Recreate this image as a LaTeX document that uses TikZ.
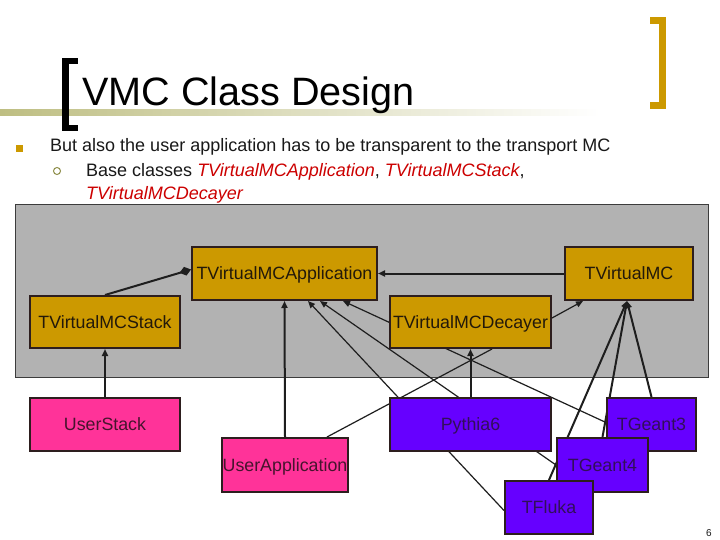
\documentclass[tikz,border=0pt]{standalone}
\usepackage{fontspec}
\setmainfont{Liberation Sans}
\usetikzlibrary{arrows.meta,calc}
\pgfdeclarelayer{bg}
\pgfdeclarelayer{edges}
\pgfsetlayers{bg,edges,main}
\definecolor{goldc}{RGB}{204,153,0}
\definecolor{pinkc}{RGB}{255,51,153}
\definecolor{purplec}{RGB}{102,0,255}
\definecolor{grayc}{RGB}{178,178,178}
\definecolor{grayborder}{RGB}{60,60,60}
\definecolor{redc}{RGB}{204,0,0}
\definecolor{bordc}{RGB}{45,30,30}
\definecolor{linec}{RGB}{30,30,30}
\definecolor{khaki}{RGB}{190,190,130}
\definecolor{olivec}{RGB}{140,140,70}
\definecolor{purtext}{RGB}{50,15,90}
\definecolor{goldtext}{RGB}{35,25,10}
\definecolor{pinktext}{RGB}{70,20,45}
\definecolor{bodytext}{RGB}{25,25,25}
\tikzset{
  cls/.style={draw=bordc, line width=2pt, inner sep=0pt,
    font=\fontsize{17.8}{20}\selectfont, text height=12.7pt, text depth=0pt},
  basecls/.style={cls, fill=goldc, text=goldtext},
  usercls/.style={cls, fill=pinkc, text=pinktext},
  implcls/.style={cls, fill=purplec, text=purtext},
  thickline/.style={draw=linec, line width=2pt},
  thinline/.style={draw=linec, line width=1.2pt},
  arr/.style={-{Triangle[length=7pt,width=6pt]}},
  bodyfont/.style={anchor=base west, inner sep=0pt, text=bodytext,
    font=\fontsize{18}{21}\selectfont},
}
\begin{document}
\begin{tikzpicture}[x=1pt,y=-1pt]
\useasboundingbox (0,0) rectangle (720,540);
\begin{pgfonlayer}{bg}
  \fill[white] (0,0) rectangle (720,540);
  \draw[draw=grayborder, line width=1pt, fill=grayc] (15,205) rectangle (708,377);
\end{pgfonlayer}

% title band and brackets
\shade[left color=khaki, right color=white] (0,110) rectangle (600,116);
\fill[black] (62,58) rectangle (69,131);
\fill[black] (62,58) rectangle (78,64);
\fill[black] (62,125) rectangle (78,131);
\fill[goldc] (659,17) rectangle (666,109);
\fill[goldc] (650,17) rectangle (666,24);
\fill[goldc] (650,102) rectangle (666,109);

\node[anchor=base west, inner sep=0pt, font=\fontsize{39.6}{44}\selectfont] (title) at (82,106) {VMC Class Design};

% bullets
\fill[goldc] (16,145) rectangle (23,152);
\draw[olivec, line width=1pt] (57,171) circle[radius=3.5pt];
\node[bodyfont] (l1) at (50,152) {But also the user application has to be transparent to the transport MC};
\node[bodyfont] (l2) at (86,177) {Base classes \textcolor{redc}{\itshape TVirtualMCApplication}, \textcolor{redc}{\itshape TVirtualMCStack},};
\node[bodyfont] (l3) at (86,199.5) {\textcolor{redc}{\itshape TVirtualMCDecayer}};

% class nodes
\node[basecls, minimum width=185pt, minimum height=53pt] (app) at (284.5,273.5) {TVirtualMCApplication};
\node[basecls, minimum width=128pt, minimum height=53pt] (mc) at (629,273.5) {TVirtualMC};
\node[basecls, minimum width=150pt, minimum height=52pt] (stack) at (105,322) {TVirtualMCStack};
\node[basecls, minimum width=161pt, minimum height=52pt] (dec) at (470.5,322) {TVirtualMCDecayer};
\node[usercls, minimum width=150pt, minimum height=53pt] (ustack) at (105,424.5) {UserStack};
\node[usercls, minimum width=126pt, minimum height=54pt] (uapp) at (285,465) {UserApplication};
\node[implcls, minimum width=161pt, minimum height=53pt] (py) at (470.5,424.5) {Pythia6};
\node[implcls, minimum width=89pt, minimum height=53pt] (g3) at (651.5,424.5) {TGeant3};
\node[implcls, minimum width=91pt, minimum height=54pt] (g4) at (602.5,465) {TGeant4};
\node[implcls, minimum width=88pt, minimum height=53pt] (fl) at (549,507.5) {TFluka};

\node[anchor=base, inner sep=0pt, font=\fontsize{10}{12}\selectfont, text=bodytext] (pg) at (709,536) {6};

% connectors
\begin{pgfonlayer}{edges}
  \draw[thickline, -{Diamond[length=12pt,width=9pt]}] (stack.north) -- ([yshift=4pt]app.west);
  \draw[thickline, arr] (mc.west) -- (app.east);
  \draw[thinline, arr] ([yshift=4pt]dec.east) -- ([xshift=-46pt]mc.south);
  \draw[thickline, arr] (ustack.north) -- (stack.south);
  \draw[thickline, arr] (uapp.north) -- (app.south);
  \draw[thickline, arr] (py.north) -- (dec.south);
  \draw[thinline, arr] ([yshift=-3pt]fl.west) -- ([xshift=23.5pt]app.south);
  \draw[thinline, arr] (g4.west) -- ([xshift=35.5pt]app.south);
  \draw[thinline, arr] ([yshift=2pt]g3.west) -- ([xshift=58.5pt]app.south);
  \draw[thinline] ([xshift=42pt]uapp.north) -- ([xshift=21.5pt]dec.south);
  \draw[thickline, arr] (g3.north) -- ([xshift=-2pt]mc.south);
  \draw[thickline, arr] (g4.north) -- ([xshift=-2pt]mc.south);
  \draw[thickline, arr] (fl.north) -- ([xshift=-2pt]mc.south);
\end{pgfonlayer}
\end{tikzpicture}
\end{document}
